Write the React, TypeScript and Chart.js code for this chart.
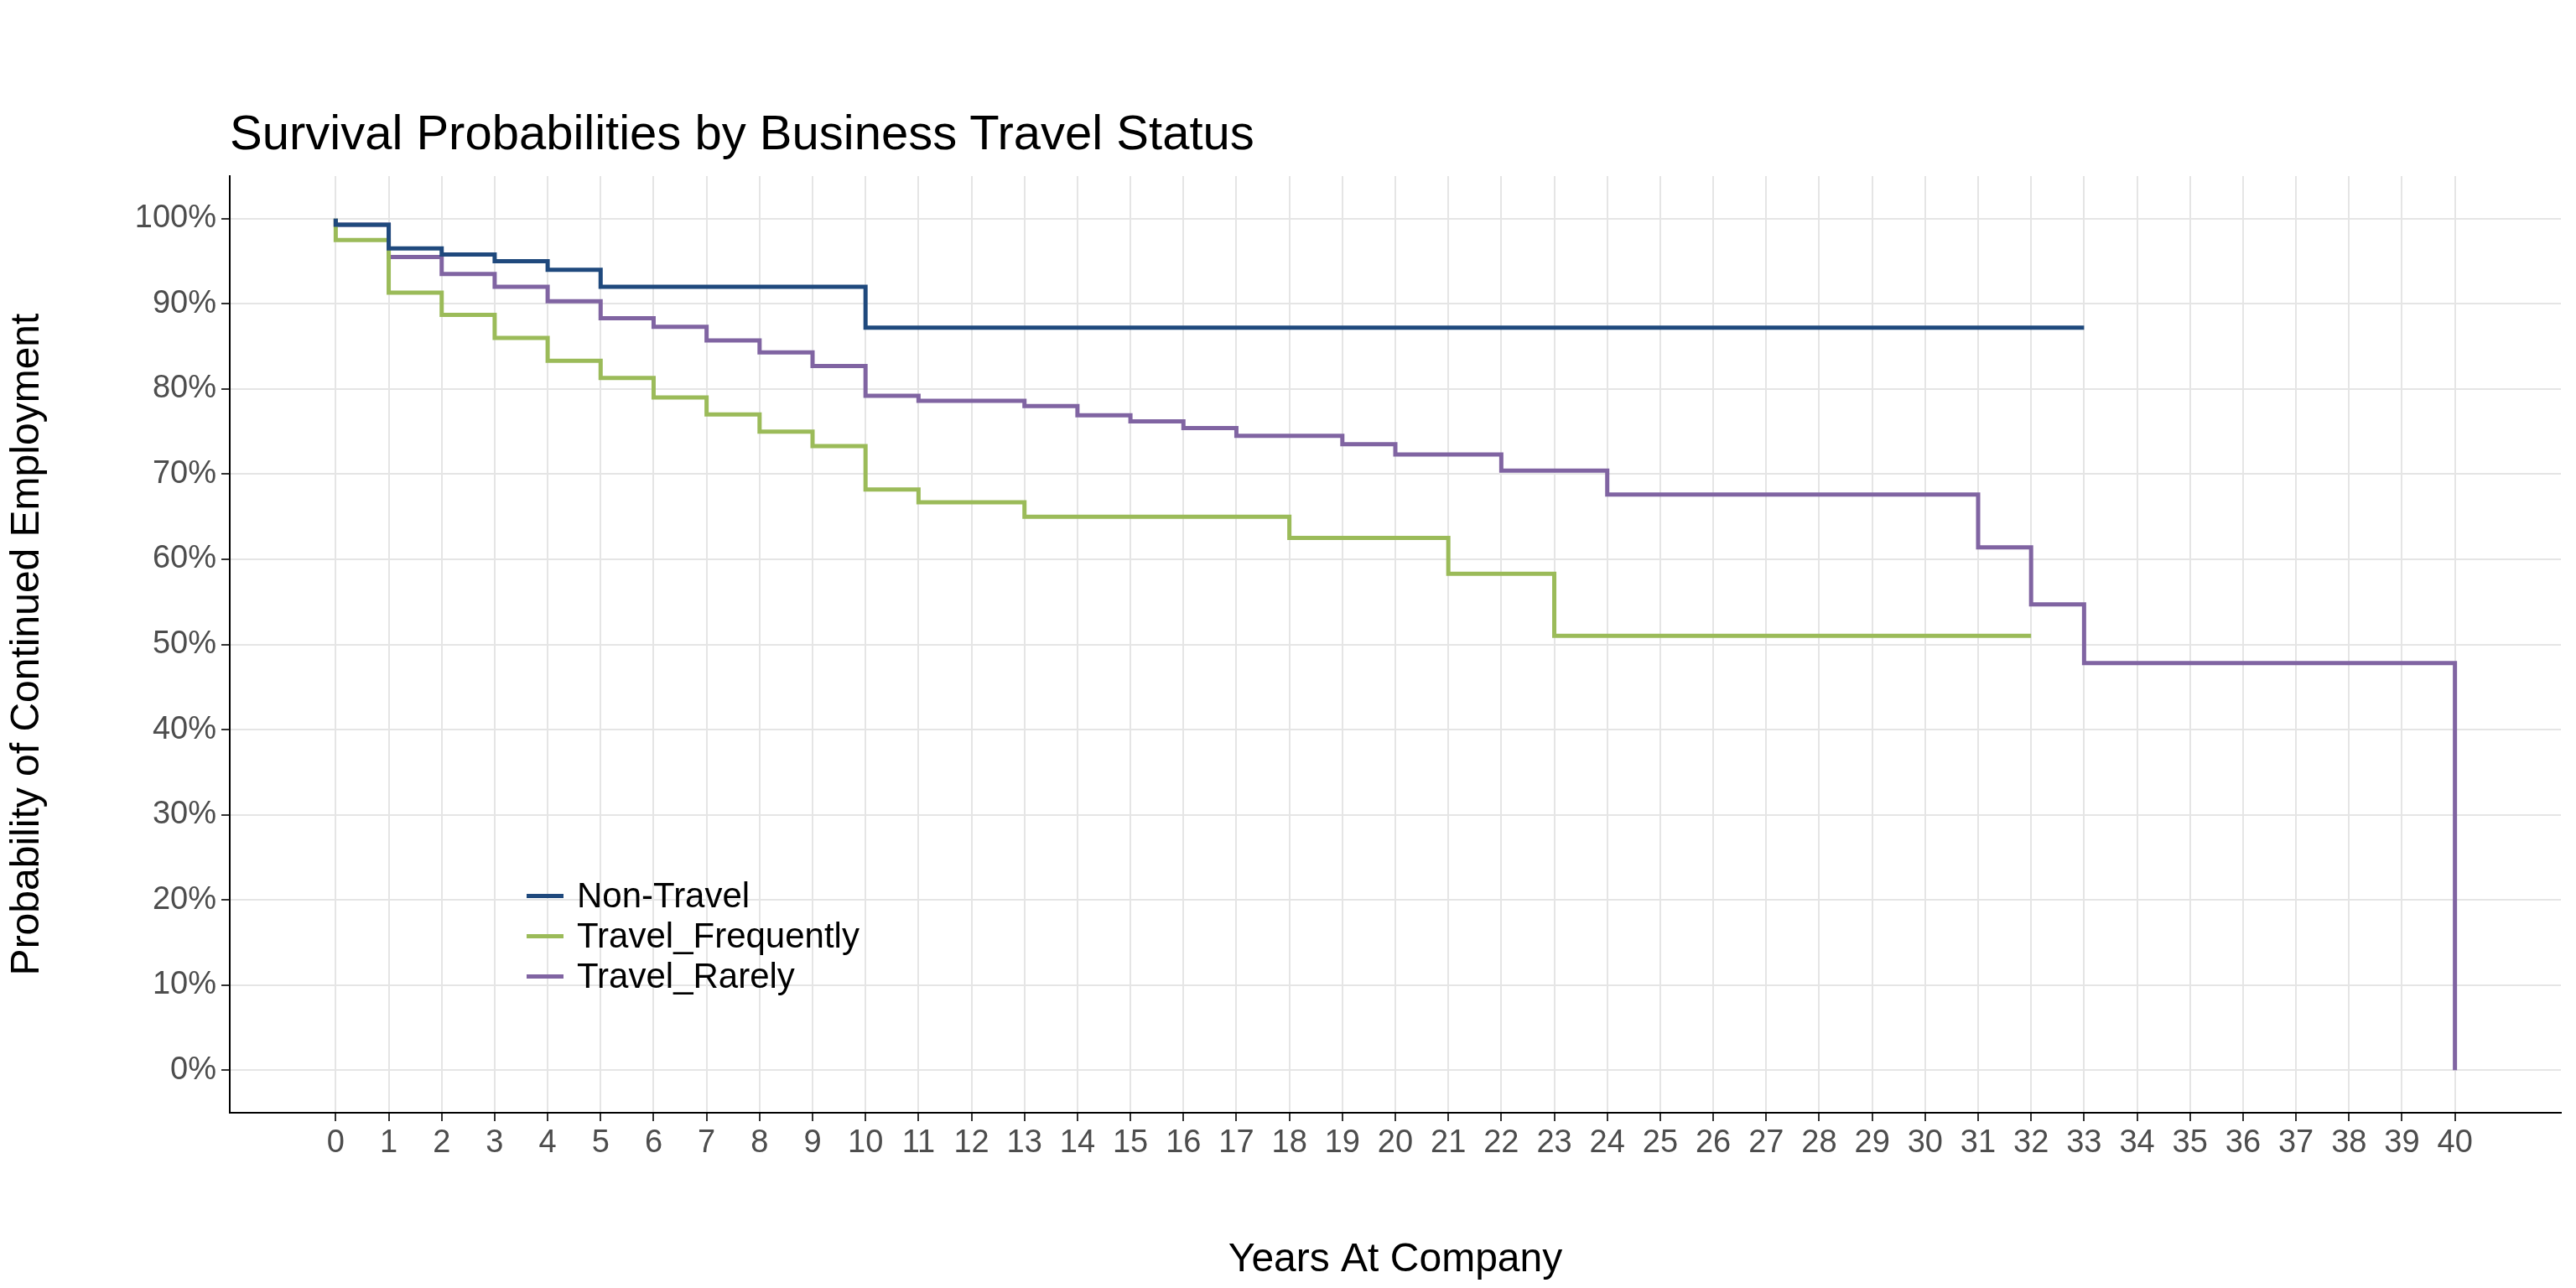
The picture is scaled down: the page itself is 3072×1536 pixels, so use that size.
import React, { useEffect, useRef } from "react";
import { Chart, registerables } from "chart.js";
Chart.register(...registerables);

const nonTravelX = [0, 0, 1, 2, 3, 4, 5, 10, 33];
const nonTravelY = [100, 99.3, 96.5, 95.8, 95.0, 94.0, 92.0, 87.2, 87.2];
const freqX = [0, 0, 1, 2, 3, 4, 5, 6, 7, 8, 9, 10, 11, 13, 18, 21, 23, 32];
const freqY = [100, 97.5, 91.3, 88.7, 86.0, 83.3, 81.3, 79.0, 77.0, 75.0, 73.3, 68.2, 66.7, 65.0, 62.5, 58.3, 51.0, 51.0];
const rarelyX = [0, 0, 1, 2, 3, 4, 5, 6, 7, 8, 9, 10, 11, 13, 14, 15, 16, 17, 19, 20, 22, 24, 31, 32, 33, 40, 40];
const rarelyY = [100, 99.3, 95.5, 93.5, 92.0, 90.3, 88.3, 87.3, 85.7, 84.3, 82.7, 79.2, 78.6, 78.0, 76.9, 76.2, 75.4, 74.5, 73.5, 72.3, 70.4, 67.6, 61.4, 54.7, 47.8, 47.8, 0];
const seriesNames = ["Non-Travel", "Travel_Frequently", "Travel_Rarely"];
const colors = ["#1f497d", "#9bbb59", "#8064a2"];
const xTicks = Array.from({ length: 41 }, (_, i) => i);
const yTicks = [0, 10, 20, 30, 40, 50, 60, 70, 80, 90, 100];

const pts = (xs: number[], ys: number[]) => xs.map((x, i) => ({ x, y: ys[i] }));

export default function App() {
  const ref = useRef<HTMLCanvasElement>(null);
  useEffect(() => {
    document.body.style.margin = "0";
    const font = "'Liberation Sans', Arial, sans-serif";
    const data = [pts(nonTravelX, nonTravelY), pts(freqX, freqY), pts(rarelyX, rarelyY)];
    const chart = new Chart(ref.current!, {
      type: "line",
      data: {
        datasets: data.map((d, i) => ({
          label: seriesNames[i],
          data: d,
          borderColor: colors[i],
          borderWidth: 5,
          pointRadius: 0,
          stepped: "before" as const,
          fill: false,
        })),
      },
      options: {
        animation: false,
        responsive: false,
        layout: { padding: { top: 210, right: 18, left: 0, bottom: 0 } },
        plugins: { legend: { display: false }, tooltip: { enabled: false } },
        scales: {
          x: {
            type: "linear",
            min: -2,
            max: 42,
            afterBuildTicks: (s: any) => { s.ticks = xTicks.map((v) => ({ value: v })); },
            afterFit: (s: any) => { s.height = 209; },
            ticks: { color: "#4d4d4d", font: { family: font, size: 38 }, padding: 4 },
            grid: { color: "#e5e5e5", lineWidth: 2, tickColor: "#333", tickLength: 10 },
            border: { color: "#000", width: 2 },
            title: { display: true, text: "Years At Company", color: "#000", font: { family: font, size: 48 }, padding: { top: 56 } },
          },
          y: {
            type: "linear",
            min: -5,
            max: 105,
            afterBuildTicks: (s: any) => { s.ticks = yTicks.map((v) => ({ value: v })); },
            afterFit: (s: any) => { s.width = 274; },
            ticks: { color: "#4d4d4d", font: { family: font, size: 38 }, padding: 6, callback: (v: any) => v + "%" },
            grid: { color: "#e5e5e5", lineWidth: 2, tickColor: "#333", tickLength: 10 },
            border: { color: "#000", width: 2 },
            title: { display: true, text: "Probability of Continued Employment", color: "#000", font: { family: font, size: 48 }, padding: { bottom: 40 } },
          },
        },
      },
    });
    return () => chart.destroy();
  }, []);
  const font = "'Liberation Sans', Arial, sans-serif";
  return (
    <div style={{ position: "relative", width: 3072, height: 1536, background: "#fff", fontFamily: font }}>
      <canvas ref={ref} width={3072} height={1536} style={{ position: "absolute", left: 0, top: 0, width: 3072, height: 1536 }} />
      <div style={{ position: "absolute", left: 274, top: 124, fontSize: 58, color: "#000" }}>Survival Probabilities by Business Travel Status</div>
      <div style={{ position: "absolute", left: 628, top: 1044, fontSize: 42, color: "#000", lineHeight: "48px" }}>
        {seriesNames.map((n, i) => (
          <div key={n} style={{ display: "flex", alignItems: "center" }}>
            <span style={{ display: "inline-block", width: 44, height: 5, background: colors[i], marginRight: 16 }} />
            {n}
          </div>
        ))}
      </div>
    </div>
  );
}
